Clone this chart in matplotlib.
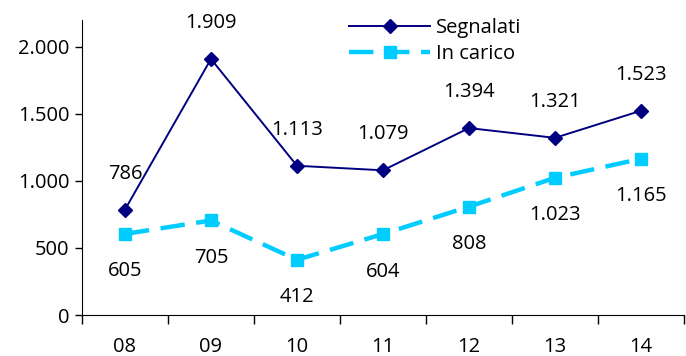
import matplotlib.pyplot as plt
import numpy as np

plt.rcParams['font.family'] = ['Open Sans', 'DejaVu Sans']

anni = ['08', '09', '10', '11', '12', '13', '14']
segnalati = [786, 1909, 1113, 1079, 1394, 1321, 1523]
in_carico = [605, 705, 412, 604, 808, 1023, 1165]

navy = '#000080'
ciano = '#00CCFF'
fs = 14.5


def fmt(v):
    # punto come separatore delle migliaia
    return f'{v:,}'.replace(',', '.')


fig = plt.figure(figsize=(6.86, 3.56), dpi=100)
ax = fig.add_axes([0.1195, 0.115, 0.8775, 0.829])

x = np.arange(len(anni))
ax.plot(x, segnalati, color=navy, lw=1.4, marker='D', ms=7.5, label='Segnalati')
ax.plot(x, in_carico, color=ciano, lw=3.2, ls=(0, (5.5, 2.6)), marker='s', ms=8,
        label='In carico')

for xi, v in zip(x, segnalati):
    ax.annotate(fmt(v), (xi, v), xytext=(0, 26), textcoords='offset points',
                ha='center', va='center', fontsize=fs)
for xi, v in zip(x, in_carico):
    ax.annotate(fmt(v), (xi, v), xytext=(0, -27), textcoords='offset points',
                ha='center', va='center', fontsize=fs)

ax.set_xlim(-0.5, len(anni) - 0.5)
ax.set_ylim(0, 2200)
ax.set_yticks([0, 500, 1000, 1500, 2000])
ax.set_yticklabels([fmt(v) for v in [0, 500, 1000, 1500, 2000]], fontsize=fs)
ax.set_xticks(x)
ax.set_xticklabels(anni, fontsize=fs)
ax.set_xticks(np.arange(-0.5, len(anni)), minor=True)
ax.tick_params(axis='x', which='major', length=0, pad=16)
ax.tick_params(axis='x', which='minor', length=6.5, width=1)
ax.tick_params(axis='y', length=5, width=1, pad=4)

for s in ['top', 'right']:
    ax.spines[s].set_visible(False)

fig.legend(loc='upper left', bbox_to_anchor=(0.483, 1.0), frameon=False,
           fontsize=fs, handlelength=4.0, labelspacing=0.3, handletextpad=0.3)

fig.savefig('out.png', dpi=100)
